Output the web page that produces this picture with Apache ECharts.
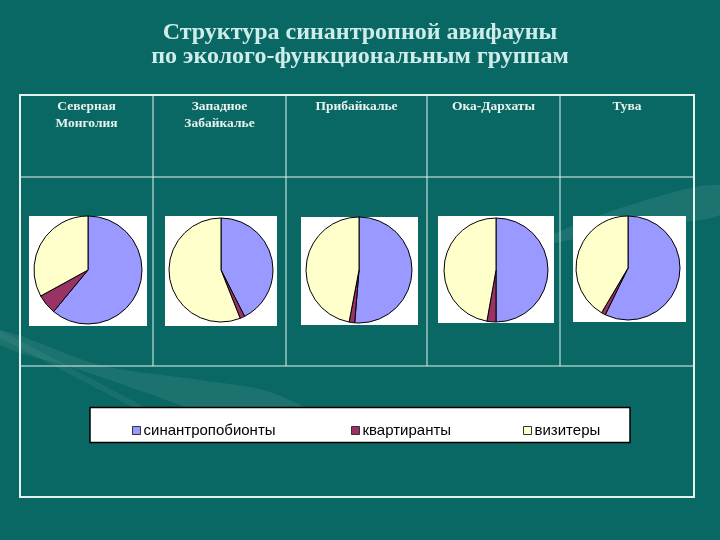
<!DOCTYPE html>
<html>
<head>
<meta charset="utf-8">
<script src="https://cdn.jsdelivr.net/npm/echarts@6/dist/echarts.min.js"></script>
<style>
  html, body { margin: 0; padding: 0; background: #0a6864; }
  #main { width: 720px; height: 540px; }
</style>
</head>
<body>
<div id="main"></div>
<script>
// регионы (заголовки столбцов)
var regions = ['Северная\nМонголия', 'Западное\nЗабайкалье', 'Прибайкалье', 'Ока-Дархаты', 'Тува'];
// эколого-функциональные группы
var groups = ['синантропобионты', 'квартиранты', 'визитеры'];
// доли групп, %
var synanthropes = [61, 42.5, 51.3, 50, 57.2];
var quartirants = [6, 1.5, 1.7, 2.8, 1.3];
var visitors = [33, 56, 47, 47.2, 41.5];

var colors = ['#9999ff', '#993366', '#ffffcc'];
var lineColor = '#e4f2ef';

// раскладка таблицы
var colX = [20, 153, 286, 427, 560, 694];
var boxes = [[29, 216, 118, 110], [165, 216, 112, 110], [301, 217, 117, 108], [438, 216, 116, 107], [573, 216, 113, 106]];
var centers = [[88, 270], [221, 270], [359, 270], [496, 270], [628, 268]];
var radii = [54, 52, 53, 52, 52];

var myChart = echarts.init(document.getElementById('main'));

var graphics = [];
// светлые "крылья" на фоне слайда
graphics.push({
	type: 'polygon',
	shape: {points: [[0, 330], [100, 365], [200, 380], [270, 392], [330, 425], [250, 432], [180, 405], [80, 370], [0, 345]], smooth: 0.3},
	style: {fill: 'rgba(255,255,255,0.07)'}
});
graphics.push({
	type: 'polygon',
	shape: {points: [[0, 330], [150, 410], [146, 414], [0, 338]]},
	style: {fill: 'rgba(255,255,255,0.06)'}
});
graphics.push({
	type: 'polygon',
	shape: {points: [[540, 240], [630, 205], [720, 185], [720, 215], [630, 226], [540, 246]], smooth: 0.3},
	style: {fill: 'rgba(255,255,255,0.08)'}
});
// внешняя рамка таблицы
graphics.push({
	type: 'rect', shape: {x: 20, y: 95, width: 674, height: 402},
	style: {fill: null, stroke: lineColor, lineWidth: 2}
});
// горизонтальные линии
graphics.push({type: 'line', shape: {x1: 20, y1: 177, x2: 694, y2: 177}, style: {stroke: lineColor, lineWidth: 1}});
graphics.push({type: 'line', shape: {x1: 20, y1: 366, x2: 694, y2: 366}, style: {stroke: lineColor, lineWidth: 1}});
// вертикальные линии
for (var i = 1; i < 5; i++) {
	graphics.push({type: 'line', shape: {x1: colX[i], y1: 95, x2: colX[i], y2: 366}, style: {stroke: lineColor, lineWidth: 1}});
}
// белые подложки под диаграммы и подписи
for (var i = 0; i < 5; i++) {
	var b = boxes[i];
	graphics.push({type: 'rect', shape: {x: b[0], y: b[1], width: b[2], height: b[3]}, style: {fill: '#ffffff'}});
	graphics.push({
		type: 'text', x: (colX[i] + colX[i + 1]) / 2, y: 98,
		style: {
			text: regions[i], fill: '#e8f2ef', align: 'center', verticalAlign: 'top',
			font: 'bold 13.5px "Liberation Serif"', lineHeight: 17
		}
	});
}
// рамка легенды
graphics.push({
	type: 'rect', shape: {x: 90, y: 407.5, width: 540, height: 35},
	style: {fill: '#ffffff', stroke: '#000000', lineWidth: 1.5}
});

var series = [];
for (var i = 0; i < 5; i++) {
	series.push({
		name: regions[i],
		type: 'pie',
		center: centers[i],
		radius: radii[i],
		startAngle: 90,
		clockwise: true,
		silent: true,
		label: {show: false},
		labelLine: {show: false},
		itemStyle: {borderColor: '#000000', borderWidth: 1},
		data: [
			{name: groups[0], value: synanthropes[i]},
			{name: groups[1], value: quartirants[i]},
			{name: groups[2], value: visitors[i]}
		]
	});
}

var legendLeft = [127, 346, 518];
var legends = [];
for (var i = 0; i < 3; i++) {
	legends.push({
		data: [groups[i]],
		left: legendLeft[i],
		top: 418,
		icon: 'rect',
		itemWidth: 8,
		itemHeight: 8,
		itemGap: 3,
		itemStyle: {borderColor: '#333333', borderWidth: 1},
		textStyle: {color: '#000000', fontFamily: 'Liberation Sans', fontSize: 15, padding: [0, 0, 0, -2]}
	});
}

var option = {
	backgroundColor: '#0a6864',
	animation: false,
	color: colors,
	title: {
		text: 'Структура синантропной авифауны\nпо эколого-функциональным группам',
		left: 'center',
		top: 16,
		textStyle: {
			color: '#cdecea',
			fontFamily: 'Liberation Serif',
			fontWeight: 'bold',
			fontSize: 24,
			lineHeight: 24
		}
	},
	legend: legends,
	graphic: graphics,
	series: series
};

myChart.setOption(option);
</script>
</body>
</html>
